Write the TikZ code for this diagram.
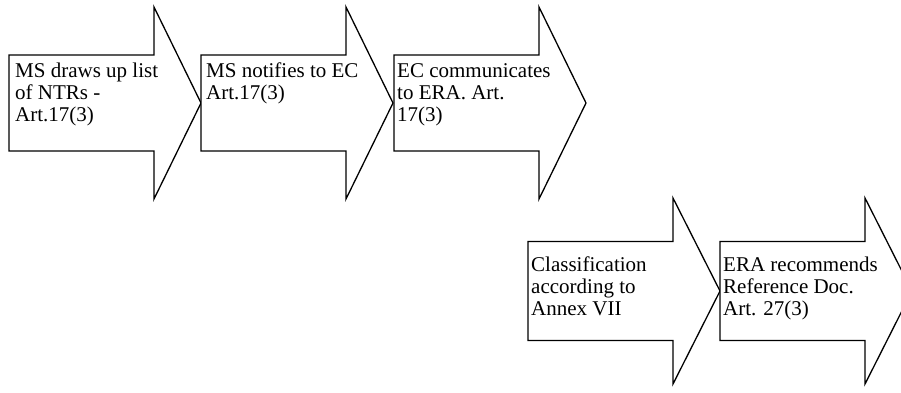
\documentclass[tikz,border=0pt]{standalone}
\usepackage{fontspec}
\setmainfont{Liberation Serif}
\tikzset{
  barrowshape/.style={draw=black, line width=1.3pt, line join=miter, fill=white},
  btext/.style={anchor=base west, inner sep=0pt, align=left, font=\fontsize{21}{22}\selectfont},
}
% #1 left x, #2 center y, #3 shaft half, #4 head half
\newcommand\myblockarrow[4]{%
  \draw[barrowshape] (#1,#2-#3) -- (#1+145,#2-#3) -- (#1+145,#2-#4) -- (#1+192,#2)
    -- (#1+145,#2+#4) -- (#1+145,#2+#3) -- (#1,#2+#3) -- cycle;}
\begin{document}
\begin{tikzpicture}[x=1pt,y=-1pt]
\useasboundingbox (0,0) rectangle (901,392);
\clip (0,0) rectangle (901,392);
\fill[white] (0,0) rectangle (901,392);
\myblockarrow{9}{103}{48}{96}
\myblockarrow{201}{103}{48}{96}
\myblockarrow{394}{103}{48}{96}
\myblockarrow{528}{291}{49.5}{93}
\myblockarrow{720}{291}{49.5}{93}
\node[btext] (t1) at (15,121) {MS draws up list\\of NTRs -\\Art.17(3)};
\node[btext] (t2) at (206,99) {MS notifies to EC\\Art.17(3)};
\node[btext] (t3) at (397,121) {EC communicates\\to ERA. Art.\\17(3)};
\node[btext] (t4) at (531,315) {Classification\\according to\\Annex VII};
\node[btext] (t5) at (723,315) {ERA recommends\\Reference Doc.\\Art. 27(3)};
\end{tikzpicture}
\end{document}
